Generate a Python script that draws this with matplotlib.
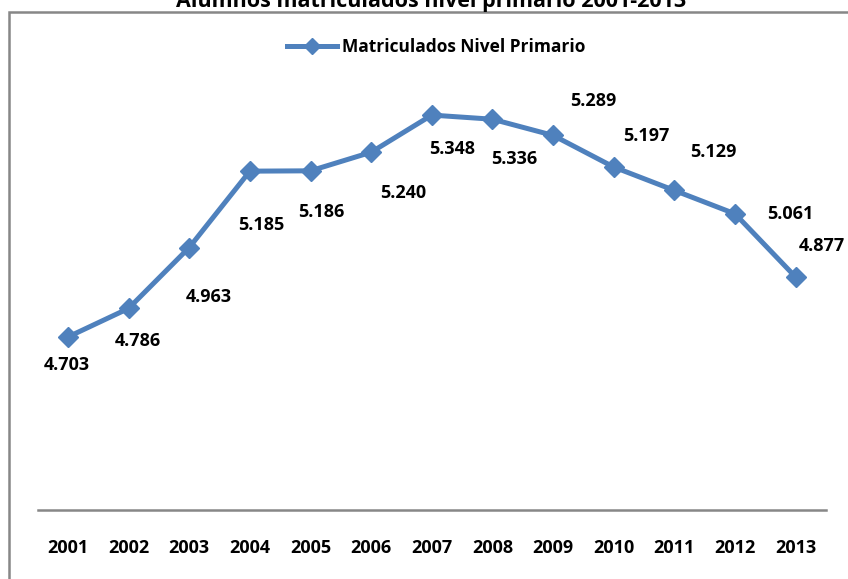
"""Alumnos matriculados nivel primario 2001-2013 (line chart, Excel style)."""
import matplotlib
matplotlib.use("Agg")
import matplotlib.pyplot as plt
from matplotlib.patches import Rectangle

years = ["2001", "2002", "2003", "2004", "2005", "2006", "2007",
         "2008", "2009", "2010", "2011", "2012", "2013"]
matriculados = [4.703, 4.786, 4.963, 5.185, 5.186, 5.240, 5.348,
                5.336, 5.289, 5.197, 5.129, 5.061, 4.877]
value_labels = ["4.703", "4.786", "4.963", "5.185", "5.186", "5.240", "5.348",
                "5.336", "5.289", "5.197", "5.129", "5.061", "4.877"]
# label offsets in pixels (dx, dy) relative to each point
label_offsets = [(-1, -28), (9, -33), (20, -49), (11, -54), (11, -41), (32, -41),
                 (20, -34), (22, -40), (40, 34), (33, 31), (39, 38), (55, 0), (26, 31)]

BLUE = "#4F81BD"
GRAY = "#878787"
W, H = 848, 579

plt.rcParams["font.family"] = ["Open Sans", "DejaVu Sans"]
fig = plt.figure(figsize=(W / 100, H / 100), dpi=100)

# chart border (cut by figure edge like the reference)
fig.patches.append(Rectangle((9 / W, -0.1), 2.0, 1 - 12 / H + 0.1, transform=fig.transFigure,
                             fill=False, edgecolor=GRAY, lw=1.8))
fig.text(431 / W, 1 - 7 / H, "Alumnos matriculados nivel primario 2001-2013",
         ha="center", va="baseline", fontsize=15.5, fontweight="bold")

ax = fig.add_axes([37.6 / W, (H - 510) / H, (826 - 37.6) / W, 447.2 / H])
x = list(range(1, len(years) + 1))
line, = ax.plot(x, matriculados, "-D", color=BLUE, lw=3.6, ms=10.5,
                label="Matriculados Nivel Primario")
for xi, v, t, (dx, dy) in zip(x, matriculados, value_labels, label_offsets):
    ax.annotate(t, (xi, v), xytext=(dx, dy), textcoords="offset pixels",
                ha="center", va="center", fontsize=13, fontweight="bold")

ax.set_xlim(0.5, len(years) + 0.5)
ax.set_ylim(4.2, 5.5)
ax.set_xticks(x)
ax.set_xticklabels(years, fontsize=13, fontweight="bold")
ax.set_yticks([])
ax.tick_params(axis="x", length=0, pad=21)
for s in ("top", "right", "left"):
    ax.spines[s].set_visible(False)
ax.spines["bottom"].set_color(GRAY)
ax.spines["bottom"].set_linewidth(1.8)

fig.legend(handles=[line], loc="center", bbox_to_anchor=(436 / W, 1 - 47 / H),
           frameon=False, prop={"weight": "bold", "size": 12.5},
           handlelength=2.9, handletextpad=0.3, markerscale=0.8)

fig.savefig("out.png", dpi=100)
